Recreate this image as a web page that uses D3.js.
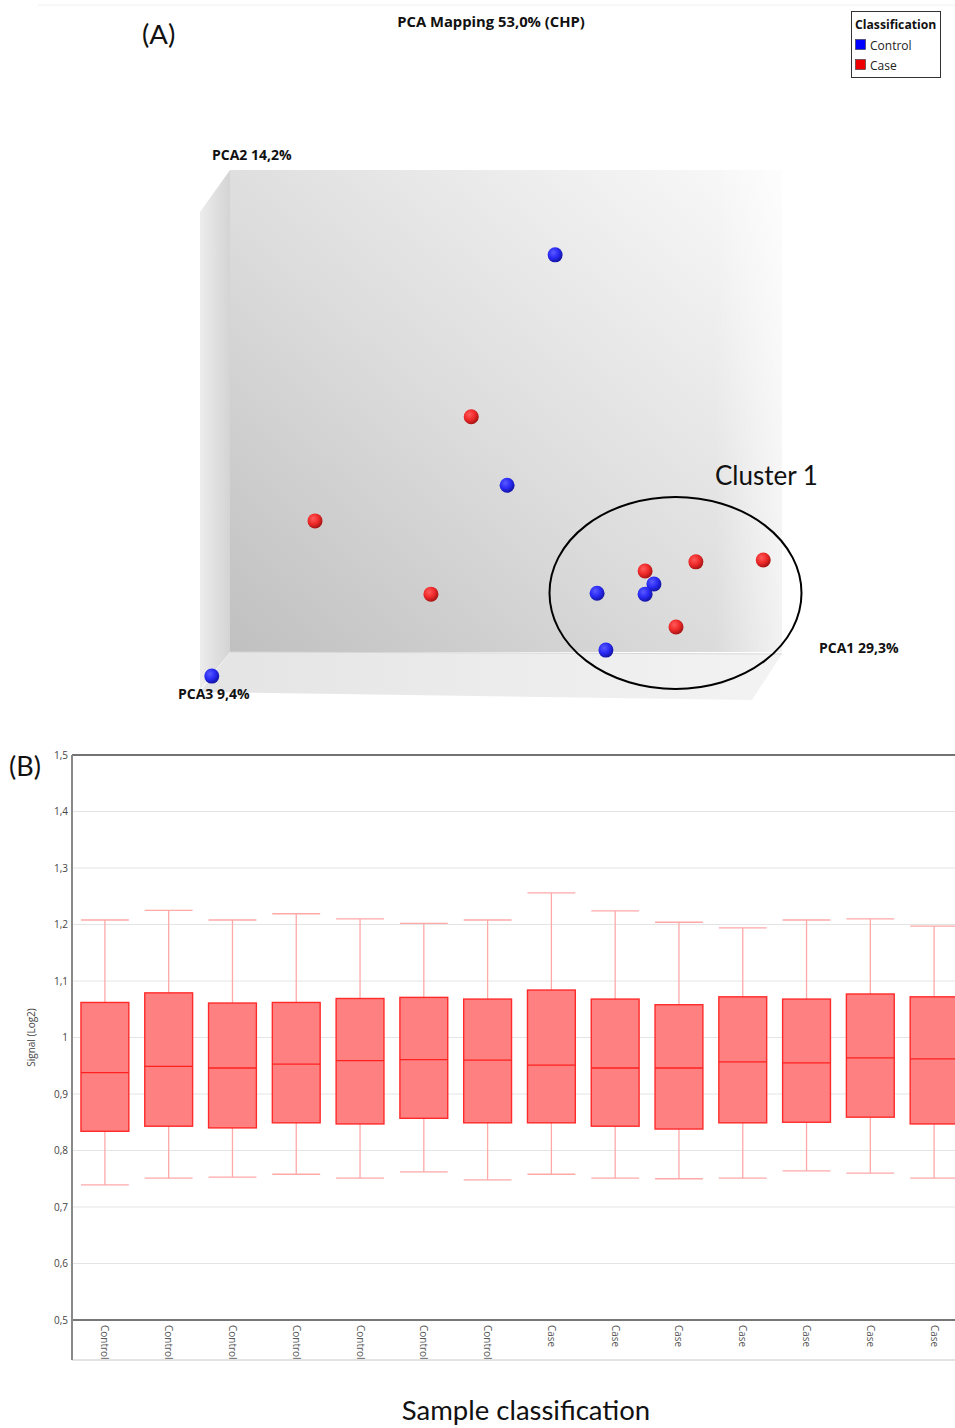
<!DOCTYPE html>
<html>
<head>
<meta charset="utf-8">
<script src="https://cdn.jsdelivr.net/npm/d3@7"></script>
<style>
  html, body { margin: 0; padding: 0; background: #fff; }
  svg { display: block; }
</style>
</head>
<body>
<div id="chart"></div>
<script>
// ---------- Panel A data (projected PCA coordinates, 0-100 units) ----------
const controlPC1 = [58.9, 50.2, 66.5, 68.1, -3.3, 76.8, 75.2];
const controlPC2 = [82.4, 34.6, 12.2, 0.4, -5.0, 14.1, 12.0];
const casePC1 = [43.7, 15.4, 36.4, 75.2, 84.4, 96.6, 80.8];
const casePC2 = [48.8, 27.2, 12.0, 16.8, 18.7, 19.1, 5.2];
const legendItems = ["Control", "Case"];

// ---------- Panel B data ----------
const sampleLabels = ["Control","Control","Control","Control","Control","Control","Control",
                      "Case","Case","Case","Case","Case","Case","Case"];
const whiskerHigh = [1.208, 1.225, 1.208, 1.219, 1.210, 1.202, 1.208, 1.256, 1.224, 1.204, 1.194, 1.208, 1.210, 1.197];
const q3Values    = [1.062, 1.079, 1.061, 1.062, 1.069, 1.071, 1.068, 1.084, 1.068, 1.058, 1.072, 1.068, 1.077, 1.072];
const medians     = [0.938, 0.949, 0.946, 0.953, 0.959, 0.961, 0.960, 0.951, 0.946, 0.946, 0.957, 0.955, 0.964, 0.962];
const q1Values    = [0.834, 0.843, 0.840, 0.849, 0.847, 0.857, 0.849, 0.849, 0.843, 0.838, 0.849, 0.850, 0.859, 0.847];
const whiskerLow  = [0.739, 0.751, 0.753, 0.758, 0.751, 0.762, 0.748, 0.758, 0.751, 0.750, 0.751, 0.764, 0.760, 0.751];
const yTicks = [0.5, 0.6, 0.7, 0.8, 0.9, 1.0, 1.1, 1.2, 1.3, 1.4, 1.5];

(function () {
const W = 955, H = 1428;
const svg = d3.select("#chart").append("svg").attr("width", W).attr("height", H)
  .style("font-family", "'Open Sans', 'Noto Sans', sans-serif");
const defs = svg.append("defs");
const calib = "Lato, 'Open Sans', sans-serif";

// ================= PANEL A =================
svg.append("line").attr("x1", 38).attr("x2", 955).attr("y1", 5).attr("y2", 5)
  .attr("stroke", "#f0f0f0").attr("stroke-width", 1);

svg.append("text").attr("x", 142).attr("y", 44).attr("font-size", 27.5)
  .attr("font-family", calib).attr("fill", "#111").text("(A)");

svg.append("text").attr("x", 491).attr("y", 27).attr("text-anchor", "middle")
  .attr("font-size", 14.8).attr("font-weight", "bold").attr("fill", "#111")
  .text("PCA Mapping 53,0% (CHP)");

// Legend
const lg = svg.append("g");
lg.append("rect").attr("x", 851.5).attr("y", 11.5).attr("width", 89).attr("height", 66)
  .attr("fill", "#fff").attr("stroke", "#333").attr("stroke-width", 1);
lg.append("text").attr("x", 855).attr("y", 29).attr("font-size", 12.2).attr("font-weight", "bold")
  .attr("fill", "#111").text("Classification");
const legendColors = { Control: "#0000ff", Case: "#ee0000" };
legendItems.forEach((name, i) => {
  lg.append("rect").attr("x", 855.5).attr("y", 39.5 + i * 20).attr("width", 10).attr("height", 10)
    .attr("fill", legendColors[name]).attr("stroke", "#333").attr("stroke-width", 0.6);
  lg.append("text").attr("x", 870).attr("y", 49.5 + i * 20).attr("font-size", 12)
    .attr("fill", "#222").text(name);
});

// 3D box gradients
const gWall = defs.append("linearGradient").attr("id", "wall")
  .attr("x1", "0").attr("y1", "1").attr("x2", "1").attr("y2", "0");
gWall.append("stop").attr("offset", "0%").attr("stop-color", "#c0c0c0");
gWall.append("stop").attr("offset", "45%").attr("stop-color", "#dcdcdc");
gWall.append("stop").attr("offset", "85%").attr("stop-color", "#f2f2f2");
gWall.append("stop").attr("offset", "100%").attr("stop-color", "#fafafa");
const gLeft = defs.append("linearGradient").attr("id", "leftwall")
  .attr("x1", "0").attr("y1", "0").attr("x2", "1").attr("y2", "0");
gLeft.append("stop").attr("offset", "0%").attr("stop-color", "#ececec");
gLeft.append("stop").attr("offset", "100%").attr("stop-color", "#d4d4d4");
const gFloor = defs.append("linearGradient").attr("id", "floor")
  .attr("x1", "0").attr("y1", "0").attr("x2", "1").attr("y2", "0");
gFloor.append("stop").attr("offset", "0%").attr("stop-color", "#e4e4e4");
gFloor.append("stop").attr("offset", "100%").attr("stop-color", "#f3f3f3");
const gRight = defs.append("linearGradient").attr("id", "rightfade")
  .attr("x1", "0").attr("y1", "0").attr("x2", "1").attr("y2", "0");
gRight.append("stop").attr("offset", "0%").attr("stop-color", "#fff").attr("stop-opacity", 0);
gRight.append("stop").attr("offset", "100%").attr("stop-color", "#fff").attr("stop-opacity", 0.6);

const xA = d3.scaleLinear().domain([0, 100]).range([230, 782]);
const yA = d3.scaleLinear().domain([0, 100]).range([652, 170]);

// back wall
svg.append("rect").attr("x", xA(0)).attr("y", yA(100)).attr("width", xA(100) - xA(0))
  .attr("height", yA(0) - yA(100)).attr("fill", "url(#wall)");
svg.append("rect").attr("x", xA(88)).attr("y", yA(100)).attr("width", xA(100) - xA(88))
  .attr("height", yA(0) - yA(100)).attr("fill", "url(#rightfade)");
// left wall
svg.append("path").attr("d", `M200,212 L${xA(0)},${yA(100)} L${xA(0)},${yA(0)} L200,690 Z`)
  .attr("fill", "url(#leftwall)");
// floor
svg.append("path").attr("d", `M${xA(0)},${yA(0)} L${xA(100)},${yA(0) + 2} L752,700 L200,692 Z`)
  .attr("fill", "url(#floor)");
svg.append("line").attr("x1", xA(0)).attr("x2", xA(100)).attr("y1", yA(0)).attr("y2", yA(0) + 2)
  .attr("stroke", "#d6d6d6").attr("stroke-width", 1);

// Axis labels
svg.append("text").attr("x", 212).attr("y", 160).attr("font-size", 14).attr("font-weight", "bold")
  .attr("fill", "#111").text("PCA2 14,2%");
svg.append("text").attr("x", 819).attr("y", 653).attr("font-size", 14).attr("font-weight", "bold")
  .attr("fill", "#111").text("PCA1 29,3%");
svg.append("text").attr("x", 178).attr("y", 699).attr("font-size", 14).attr("font-weight", "bold")
  .attr("fill", "#111").text("PCA3 9,4%");

// sphere gradients
function sphere(id, light, mid, dark) {
  const g = defs.append("radialGradient").attr("id", id)
    .attr("cx", "38%").attr("cy", "35%").attr("r", "65%");
  g.append("stop").attr("offset", "0%").attr("stop-color", light);
  g.append("stop").attr("offset", "55%").attr("stop-color", mid);
  g.append("stop").attr("offset", "100%").attr("stop-color", dark);
}
sphere("blueS", "#5a5aff", "#2a2af5", "#1515a8");
sphere("redS", "#ff5a5a", "#f02a2a", "#a81515");

const points = [];
casePC1.forEach((v, i) => points.push({ x: v, y: casePC2[i], g: "Case" }));
controlPC1.forEach((v, i) => points.push({ x: v, y: controlPC2[i], g: "Control" }));

svg.append("g").selectAll("circle").data(points).join("circle")
  .attr("cx", d => xA(d.x)).attr("cy", d => yA(d.y)).attr("r", 7.5)
  .attr("fill", d => d.g === "Control" ? "url(#blueS)" : "url(#redS)");

// Cluster ellipse
svg.append("ellipse").attr("cx", 675.5).attr("cy", 593).attr("rx", 126).attr("ry", 96)
  .attr("fill", "none").attr("stroke", "#000").attr("stroke-width", 2);
svg.append("text").attr("x", 715).attr("y", 485).attr("font-size", 26)
  .attr("font-family", calib).attr("fill", "#111").text("Cluster 1");

// ================= PANEL B =================
const pTop = 755, pBottom = 1320, pLeft = 72, pRight = 955;
const yB = d3.scaleLinear().domain([0.5, 1.5]).range([pBottom, pTop]);
const xB = d3.scaleBand().domain(d3.range(sampleLabels.length)).range([73, 966]).padding(0);
const boxW = xB.bandwidth() * 0.75;
const locale = d3.formatLocale({ decimal: ",", thousands: ".", grouping: [3], currency: ["", ""] });
const fmt = locale.format(".2~f");

defs.append("clipPath").attr("id", "plotclip").append("rect")
  .attr("x", pLeft).attr("y", pTop - 5).attr("width", pRight - pLeft).attr("height", pBottom - pTop + 60);

svg.append("text").attr("x", 9).attr("y", 776).attr("font-size", 27)
  .attr("font-family", calib).attr("fill", "#111").text("(B)");

// grid
svg.append("g").selectAll("line").data(yTicks.filter(t => t > 0.5 && t < 1.5)).join("line")
  .attr("x1", pLeft).attr("x2", pRight).attr("y1", d => yB(d)).attr("y2", d => yB(d))
  .attr("stroke", "#e4e4e4").attr("stroke-width", 1);

// y tick labels
svg.append("g").selectAll("text").data(yTicks).join("text")
  .attr("x", 68).attr("y", d => yB(d) + 3.5).attr("text-anchor", "end")
  .attr("font-size", 10).attr("fill", "#444").text(d => fmt(d));

svg.append("text").attr("transform", `translate(35,${yB(1.0)}) rotate(-90)`)
  .attr("text-anchor", "middle").attr("font-size", 10).attr("fill", "#444")
  .attr("font-family", "'Liberation Sans Narrow', 'Open Sans', sans-serif")
  .text("Signal (Log2)");

// boxes
const boxG = svg.append("g").attr("clip-path", "url(#plotclip)");
const idx = d3.range(sampleLabels.length);
const cx = i => xB(i) + xB.bandwidth() / 2;
const whiskerColor = "#ffa8a8";
boxG.selectAll("line.wu").data(idx).join("line").attr("class", "wu")
  .attr("x1", cx).attr("x2", cx).attr("y1", i => yB(whiskerHigh[i])).attr("y2", i => yB(q3Values[i]))
  .attr("stroke", whiskerColor).attr("stroke-width", 1.3);
boxG.selectAll("line.wl").data(idx).join("line").attr("class", "wl")
  .attr("x1", cx).attr("x2", cx).attr("y1", i => yB(q1Values[i])).attr("y2", i => yB(whiskerLow[i]))
  .attr("stroke", whiskerColor).attr("stroke-width", 1.3);
boxG.selectAll("line.ch").data(idx).join("line").attr("class", "ch")
  .attr("x1", i => cx(i) - boxW / 2).attr("x2", i => cx(i) + boxW / 2)
  .attr("y1", i => yB(whiskerHigh[i])).attr("y2", i => yB(whiskerHigh[i]))
  .attr("stroke", whiskerColor).attr("stroke-width", 1.3);
boxG.selectAll("line.cl").data(idx).join("line").attr("class", "cl")
  .attr("x1", i => cx(i) - boxW / 2).attr("x2", i => cx(i) + boxW / 2)
  .attr("y1", i => yB(whiskerLow[i])).attr("y2", i => yB(whiskerLow[i]))
  .attr("stroke", whiskerColor).attr("stroke-width", 1.3);
boxG.selectAll("rect.box").data(idx).join("rect").attr("class", "box")
  .attr("x", i => cx(i) - boxW / 2).attr("width", boxW)
  .attr("y", i => yB(q3Values[i])).attr("height", i => yB(q1Values[i]) - yB(q3Values[i]))
  .attr("fill", "#ff8080").attr("stroke", "#ff2a2a").attr("stroke-width", 1.4);
boxG.selectAll("line.med").data(idx).join("line").attr("class", "med")
  .attr("x1", i => cx(i) - boxW / 2).attr("x2", i => cx(i) + boxW / 2)
  .attr("y1", i => yB(medians[i])).attr("y2", i => yB(medians[i]))
  .attr("stroke", "#ff2020").attr("stroke-width", 1.3);

// x labels
boxG.selectAll("text.xl").data(idx).join("text").attr("class", "xl")
  .attr("transform", i => `translate(${cx(i) - 3.5},${pBottom + 5}) rotate(90)`)
  .attr("font-size", 10).attr("fill", "#555")
  .attr("font-family", "'Liberation Sans Narrow', 'Open Sans', sans-serif")
  .text(i => sampleLabels[i]);

// frame lines
svg.append("line").attr("x1", pLeft).attr("x2", pRight).attr("y1", pTop).attr("y2", pTop)
  .attr("stroke", "#444").attr("stroke-width", 1.5);
svg.append("line").attr("x1", pLeft).attr("x2", pRight).attr("y1", pBottom).attr("y2", pBottom)
  .attr("stroke", "#777").attr("stroke-width", 2);
svg.append("line").attr("x1", pLeft).attr("x2", pRight).attr("y1", 1360).attr("y2", 1360)
  .attr("stroke", "#c8c8c8").attr("stroke-width", 1);
svg.append("line").attr("x1", pLeft).attr("x2", pLeft).attr("y1", pTop).attr("y2", 1360)
  .attr("stroke", "#888").attr("stroke-width", 2);

svg.append("text").attr("x", 526).attr("y", 1420).attr("text-anchor", "middle")
  .attr("font-size", 27.5).attr("font-family", calib)
  .attr("fill", "#111").text("Sample classification");
})();
</script>
</body>
</html>
